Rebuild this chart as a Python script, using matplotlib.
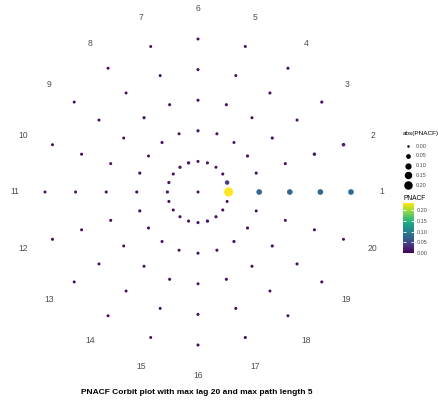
import numpy as np
import matplotlib.pyplot as plt
from matplotlib import cm, colors

plt.rcParams["font.family"] = ["Liberation Sans", "DejaVu Sans"]

# lags around the circle, path lengths outward from the centre
lags = list(range(1, 21))
path_lengths = [1, 2, 3, 4, 5]

center_value = 0.008
path1 = [0.233, 0.042, 0.010, 0.008, 0.010, 0.009, 0.016, 0.014, 0.010, 0.012,
         0.012, 0.010, 0.009, 0.010, 0.011, 0.010, 0.016, 0.012, 0.010, 0.008]
path2 = [0.078, 0.010, 0.012, 0.008, 0.010, 0.012, 0.008, 0.010, 0.008, 0.012,
         0.012, 0.012, 0.010, 0.009, 0.008, 0.010, 0.010, 0.012, 0.010, 0.008]
path3 = [0.078, 0.010, 0.012, 0.009, 0.010, 0.010, 0.010, 0.012, 0.008, 0.008,
         0.010, 0.010, 0.008, 0.008, 0.010, 0.008, 0.010, 0.010, 0.012, 0.008]
path4 = [0.078, 0.018, 0.008, 0.010, 0.008, 0.010, 0.008, 0.008, 0.008, 0.010,
         0.008, 0.008, 0.008, 0.008, 0.008, 0.010, 0.010, 0.008, 0.010, 0.008]
path5 = [0.078, 0.022, 0.012, 0.010, 0.008, 0.008, 0.008, 0.008, 0.008, 0.008,
         0.008, 0.010, 0.008, 0.008, 0.008, 0.010, 0.010, 0.008, 0.010, 0.008]
paths = [path1, path2, path3, path4, path5]

size_breaks = [0.00, 0.05, 0.10, 0.15, 0.20]
color_breaks = [0.00, 0.05, 0.10, 0.15, 0.20]

W, H, DPI = 438, 409, 100
UNIT = 30.6          # pixels per ring
CX, CY = 198, 192    # centre in pixels (from top)


def point_size(v):
    # area grows linearly with |value|; returns points^2
    d_px = np.sqrt(6.25 + 329 * np.abs(v))
    return (d_px * 72 / DPI) ** 2


vmax = max(max(p) for p in paths)
norm = colors.Normalize(0, vmax)
cmap = cm.viridis

fig = plt.figure(figsize=(W / DPI, H / DPI), dpi=DPI)
ax = fig.add_axes([0, 0, 1, 1])
ax.set_xlim(-CX / UNIT, (W - CX) / UNIT)
ax.set_ylim((CY - H) / UNIT, CY / UNIT)
ax.axis("off")

angles = np.deg2rad((np.array(lags) - 1) * 18)
xs, ys, vals = [0.0], [0.0], [center_value]
for r, vals_r in zip(path_lengths, paths):
    xs += list(r * np.cos(angles))
    ys += list(r * np.sin(angles))
    vals += vals_r
vals = np.array(vals)
order = np.argsort(np.abs(vals))
ax.scatter(np.array(xs)[order], np.array(ys)[order], s=point_size(vals[order]),
           c=vals[order], cmap=cmap, norm=norm, linewidths=0, zorder=3)

label_r = len(path_lengths) + 1
for lag, a in zip(lags, angles):
    ax.text(label_r * np.cos(a), label_r * np.sin(a), str(lag), ha="center",
            va="center", fontsize=6.2, color="#4d4d4d")

fig.text(197 / W, 1 - 393 / H, "PNACF Corbit plot with max lag 20 and max path length 5",
         ha="center", va="center", fontsize=6, fontweight="bold")

# size legend
lx = 403
fig.text(lx / W, 1 - 134 / H, "abs(PNACF)", ha="left", va="center", fontsize=4.6)
leg = fig.add_axes([0, 0, 1, 1], facecolor="none")
leg.set_xlim(0, W)
leg.set_ylim(H, 0)
leg.axis("off")
for i, b in enumerate(size_breaks):
    y = 146 + i * 9.8
    leg.scatter([408], [y], s=point_size(b), color="black", linewidths=0)
    fig.text(416 / W, 1 - y / H, f"{b:.2f}", ha="left", va="center",
             fontsize=4, color="#4d4d4d")

# colour legend
fig.text(lx / W, 1 - 198 / H, "PNACF", ha="left", va="center", fontsize=4.8)
cax = fig.add_axes([403 / W, 1 - 253 / H, 11 / W, 50 / H])
grad = np.linspace(0, vmax, 200).reshape(-1, 1)
cax.imshow(grad, aspect="auto", cmap=cmap, norm=norm, origin="lower",
           extent=[0, 1, 0, vmax])
cax.set_xticks([])
cax.yaxis.tick_right()
cax.set_yticks(color_breaks)
cax.set_yticklabels([f"{b:.2f}" for b in color_breaks])
cax.tick_params(axis="y", direction="in", length=2.2, width=0.6, color="white",
                left=True, right=True, labelsize=4, labelcolor="#4d4d4d", pad=2)
for s in cax.spines.values():
    s.set_visible(False)

fig.savefig("out.png", dpi=DPI)
